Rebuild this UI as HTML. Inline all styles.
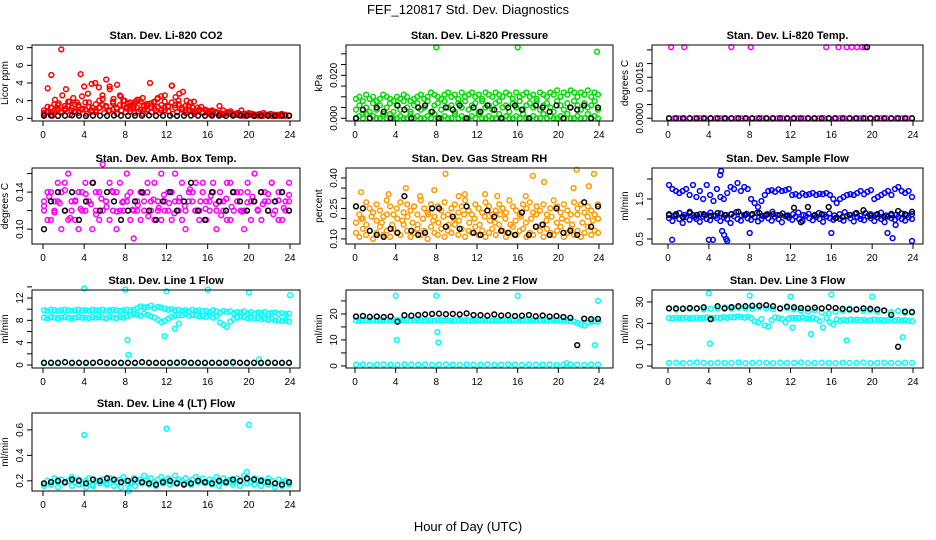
<!DOCTYPE html>
<html><head><meta charset="utf-8"><style>
body{margin:0;background:#fff}
svg{display:block}
text{font-family:"Liberation Sans",sans-serif}
</style></head><body>
<svg id="chart" width="936" height="540" viewBox="0 0 936 540">
<text x="468" y="14" text-anchor="middle" font-size="13">FEF_120817  Std. Dev. Diagnostics</text>
<text x="468" y="531" text-anchor="middle" font-size="13">Hour of Day (UTC)</text>
</svg>
<script>
// ---- data ----
const xTicks=[0,4,8,12,16,20,24];
const co2A=[0.4,0.8,1.2,0.9,1.5,7.8,1.1,1.4,0.9,1.6,1.3,2.5,1.0,1.8,1.2,0.9,2.0,1.5,1.3,3.6,1.9,1.2,2.6,1.5,1.1,1.8,1.3,2.1,1.0,1.4,1.6,1.2,1.9,1.3,0.9,2.6,1.4,3.7,1.5,2.0,1.2,0.9,1.4,0.8,0.7,1.0,0.6,0.9,0.5,0.7,0.6,0.5,0.4,0.6,0.5,0.4,0.4,0.5,0.3,0.4,0.4,0.3,0.3,0.3,0.4,0.3,0.3,0.3,0.3,0.3,0.3,0.3];
const co2B=[0.6,3.4,4.9,2.1,1.7,2.6,3.3,1.9,2.3,1.8,5.0,3.6,2.8,3.9,4.0,3.5,2.6,4.4,3.3,2.2,3.8,2.5,2.0,1.7,1.5,1.9,2.1,2.3,1.6,4.0,1.8,2.2,2.5,1.9,1.4,3.7,2.4,2.8,3.0,2.0,1.8,1.9,1.2,1.3,1.0,0.8,0.9,0.7,1.4,0.9,0.6,0.8,0.5,0.6,0.9,0.5,0.6,0.5,0.4,0.5,0.6,0.4,0.5,0.4,0.4,0.5,0.4,0.3];
const co2C=[0.5,0.7,0.3,0.9,0.6,1.0,0.4,0.8,0.6,1.1,0.5,0.9,0.7,1.2,0.6,0.8,1.0,0.5,0.9,0.7,1.1,0.6,0.8,0.5,1.0,0.7,0.9,0.6,1.2,0.8,0.5,0.7,1.0,0.6,0.9,0.5,0.8,0.6,0.7,0.5,0.6,0.4,0.5,0.6,0.4,0.5,0.3,0.4,0.5,0.3,0.4,0.3,0.4,0.3,0.3,0.4,0.3,0.3];
const co2D=[0.9,1.3,0.7,1.6,1.1,0.8,1.4,1.9,1.2,0.7,1.5,1.0,1.8,1.3,0.8,1.6,1.2,2.2,1.4,0.9,1.7,1.1,1.5,2.0,1.3,0.8,1.6,1.2,1.9,1.0,1.4,1.7,1.1,2.3,1.5,0.9,1.3,1.8,1.2,1.6,1.0,1.4,0.9,1.2,0.8,1.0,0.7,0.9,0.6,0.8,0.7,0.6,0.5,0.7,0.6,0.5,0.6,0.4,0.5,0.4,0.5,0.4,0.4,0.3,0.4,0.4,0.3,0.4,0.3,0.4,0.3,0.3];
const co2K=[0.3,0.32,0.28,0.3,0.33,0.3,0.27,0.31,0.3,0.29,0.32,0.3,0.28,0.31,0.3,0.33,0.29,0.3,0.31,0.28,0.3,0.32,0.3,0.29,0.31,0.3,0.28,0.3,0.32,0.3,0.29,0.31,0.3,0.28,0.3,0.31];

const presA=[0.009,0.010,0.008,0.011,0.009,0.010,0.008,0.009,0.011,0.010,0.009,0.008,0.010,0.009,0.011,0.010,0.008,0.009,0.010,0.011,0.009,0.010,0.012,0.011,0.010,0.009,0.011,0.012,0.010,0.011,0.009,0.012,0.010,0.011,0.012,0.010,0.011,0.009,0.012,0.011,0.010,0.012,0.011,0.010,0.012,0.011,0.009,0.012,0.010,0.011,0.012,0.010,0.011,0.009,0.012,0.011,0.010,0.012,0.011,0.013,0.010,0.012,0.011,0.013,0.012,0.010,0.012,0.011,0.013,0.010,0.012,0.011];
const presB=[0.004,0.006,0.002,0.005,0.003,0.007,0.004,0.006,0.002,0.005,0.007,0.003,0.006,0.004,0.008,0.005,0.003,0.006,0.007,0.004,0.005,0.008,0.003,0.006,0.007,0.004,0.008,0.005,0.006,0.003,0.007,0.005,0.008,0.004,0.006,0.007,0.003,0.008,0.005,0.006,0.004,0.007,0.008,0.005,0.006,0.003,0.007,0.005,0.008,0.004,0.006,0.007,0.005,0.008,0.004,0.006,0.007,0.005,0.003,0.008,0.006,0.004,0.007,0.005,0.008,0.006,0.004,0.007,0.005,0.006,0.008,0.004];
const presC=[0,0.001,0,0.002,0,0.001,0,0,0.001,0,0.002,0,0,0.001,0,0,0.002,0,0.001,0,0,0.001,0,0.002,0,0,0.001,0,0,0.002,0,0.001,0,0,0.001,0,0.002,0,0,0.001,0,0,0.002,0,0.001,0,0,0.001,0,0.002,0,0,0.001,0,0,0.002,0,0.001,0,0,0.001,0,0.002,0,0,0.001,0,0,0.002,0,0.001,0];
const presOutX=[8,16,23.8];
const presOutY=[0.033,0.033,0.031];
const presK=[0,0.004,0,0.005,0.003,0,0.006,0.004,0,0.005,0.006,0.003,0,0.005,0.004,0.006,0,0.005,0.003,0.006,0.004,0,0.005,0.006,0.004,0,0.006,0.005,0.003,0.006,0,0.005,0.004,0.006,0,0.005];

const tempM=[0,0,0,0,0,0,0,0,0,0,0,0,0,0,0,0,0,0,0,0,0,0,0,0,0,0,0,0,0,0,0,0,0,0,0,0,0,0,0,0,0,0,0,0,0,0,0,0];
const tempOutX=[0.3,1.6,6.2,8.1,15.5,16.7,17.5,18,18.5,19,19.3];
const tempOutY=[0.0026,0.0026,0.0026,0.0026,0.0026,0.0026,0.0026,0.0026,0.0026,0.0026,0.0026];
const tempK=[0,0,0,0,0,0,0,0,0,0,0,0,0,0,0,0,0,0,0,0,0,0,0,0,0,0,0,0,0,0,0,0,0,0,0,0];
const tempKOutX=[19.5];
const tempKOutY=[0.0026];

const ambA=[0.12,0.14,0.11,0.13,0.15,0.10,0.12,0.16,0.13,0.11,0.14,0.12,0.15,0.13,0.10,0.12,0.14,0.17,0.13,0.11,0.12,0.14,0.15,0.12,0.13,0.11,0.09,0.12,0.14,0.13,0.15,0.12,0.11,0.13,0.16,0.12,0.14,0.11,0.13,0.12,0.15,0.10,0.13,0.14,0.12,0.11,0.15,0.13,0.12,0.14,0.10,0.13,0.12,0.15,0.11,0.14,0.13,0.12,0.10,0.14,0.13,0.16,0.12,0.11,0.14,0.13,0.15,0.12,0.14,0.11,0.13,0.15];
const ambB=[0.13,0.11,0.14,0.12,0.13,0.14,0.15,0.11,0.12,0.13,0.10,0.14,0.12,0.13,0.15,0.14,0.11,0.12,0.13,0.15,0.14,0.10,0.12,0.13,0.16,0.14,0.12,0.13,0.11,0.12,0.14,0.13,0.15,0.12,0.11,0.13,0.12,0.14,0.16,0.13,0.11,0.12,0.14,0.13,0.15,0.12,0.14,0.11,0.13,0.15,0.12,0.14,0.13,0.11,0.15,0.12,0.13,0.14,0.12,0.15,0.11,0.13,0.12,0.14,0.13,0.12,0.15,0.13,0.11,0.14,0.12,0.13];
const ambC=[0.125,0.135,0.118,0.128,0.142,0.112,0.131,0.122,0.138,0.127,0.116,0.133,0.124,0.141,0.119,0.129,0.136,0.121,0.126,0.139,0.114,0.132,0.123,0.137,0.128,0.117,0.134,0.125,0.143,0.12,0.13,0.122,0.136,0.127,0.115,0.133,0.124,0.14,0.119,0.129,0.135,0.121,0.127,0.138,0.116,0.131,0.123,0.137];
const ambK=[0.10,0.13,0.14,0.12,0.14,0.11,0.13,0.15,0.12,0.14,0.13,0.11,0.12,0.13,0.14,0.12,0.11,0.13,0.14,0.12,0.13,0.15,0.12,0.11,0.14,0.13,0.12,0.14,0.13,0.12,0.13,0.14,0.12,0.13,0.14,0.12];

const rhA=[0.26,0.22,0.20,0.28,0.25,0.23,0.27,0.24,0.21,0.29,0.26,0.22,0.25,0.28,0.23,0.27,0.24,0.26,0.22,0.29,0.25,0.23,0.27,0.21,0.26,0.24,0.28,0.22,0.25,0.27,0.23,0.26,0.29,0.24,0.22,0.27,0.25,0.23,0.28,0.26,0.22,0.24,0.27,0.25,0.23,0.29,0.26,0.24,0.22,0.27,0.25,0.28,0.23,0.26,0.24,0.27,0.22,0.25,0.29,0.26,0.23,0.27,0.24,0.22,0.28,0.25,0.27,0.23,0.26,0.24,0.22,0.27];
const rhB=[0.13,0.11,0.15,0.12,0.14,0.10,0.13,0.16,0.12,0.14,0.11,0.15,0.13,0.12,0.17,0.14,0.11,0.13,0.15,0.12,0.14,0.10,0.16,0.13,0.12,0.15,0.11,0.14,0.13,0.17,0.12,0.15,0.11,0.14,0.13,0.16,0.12,0.14,0.11,0.13,0.15,0.12,0.17,0.14,0.11,0.13,0.16,0.12,0.14,0.15,0.11,0.13,0.12,0.16,0.14,0.11,0.15,0.13,0.12,0.14,0.16,0.11,0.13,0.15,0.12,0.14,0.11,0.13,0.16,0.12,0.14,0.13];
const rhC=[0.18,0.20,0.17,0.21,0.19,0.18,0.22,0.17,0.20,0.19,0.21,0.18,0.17,0.20,0.22,0.19,0.18,0.21,0.17,0.20,0.19,0.22,0.18,0.20,0.17,0.21,0.19,0.18,0.22,0.20,0.17,0.19,0.21,0.18,0.20,0.22,0.17,0.19,0.21,0.18,0.20,0.19,0.17,0.22,0.18,0.21,0.19,0.20];
const rhOutX=[0.6,3.3,5.0,6.4,7.8,8.9,10.2,10.8,12.8,14,16.8,17.5,18.6,21.5,21.8,23,23.5];
const rhOutY=[0.33,0.32,0.35,0.31,0.34,0.42,0.31,0.32,0.32,0.31,0.31,0.41,0.38,0.35,0.44,0.36,0.42];
const rhK=[0.26,0.25,0.14,0.12,0.11,0.15,0.13,0.31,0.14,0.12,0.13,0.25,0.25,0.16,0.21,0.15,0.26,0.13,0.12,0.24,0.21,0.14,0.13,0.12,0.23,0.12,0.16,0.17,0.12,0.25,0.13,0.14,0.12,0.28,0.16,0.26];

const sfA=[1.02,0.95,1.08,1.0,0.9,1.05,0.98,1.1,1.0,0.93,1.06,1.0,0.97,1.08,1.02,0.95,1.04,1.0,0.9,1.07,1.0,0.96,1.1,1.02,0.98,1.05,0.94,1.0,1.08,1.02,0.96,1.05,1.0,0.92,1.07,1.03,0.98,1.06,1.0,0.95,1.08,1.02,0.97,1.05,1.0,0.93,1.06,1.02,0.98,1.04,1.0,0.96,1.08,1.02,0.94,1.05,1.0,0.97,1.07,1.02,0.95,1.04,1.0,0.92,1.06,1.02,0.98,1.05,1.0,0.96,1.04,1.0];
const sfB=[1.12,1.08,1.15,1.1,1.18,1.05,1.12,1.1,1.16,1.08,1.14,1.1,1.12,1.17,1.09,1.13,1.1,1.15,1.08,1.12,1.18,1.1,1.14,1.09,1.12,1.16,1.1,1.13,1.08,1.15,1.11,1.14,1.09,1.12,1.17,1.1,1.13,1.08,1.15,1.12,1.1,1.16,1.09,1.13,1.11,1.14,1.1,1.12];
const sfC=[1.85,1.75,1.7,1.65,1.7,1.75,1.6,1.85,1.55,1.7,1.5,1.85,1.6,1.45,1.75,1.55,1.5,1.65,1.8,1.75,1.9,1.7,1.8,1.75,1.5,1.4,1.3,1.45,1.6,1.7,1.72,1.68,1.74,1.7,1.72,1.75,1.6,1.62,1.58,1.64,1.6,1.62,1.65,1.6,1.63,1.62,1.65,1.6,1.5,1.4,1.5,1.55,1.6,1.62,1.6,1.65,1.7,1.62,1.68,1.72,1.5,1.55,1.6,1.65,1.7,1.6,1.75,1.8,1.7,1.65,1.7,1.55];
const sfOutX=[0.4,4.0,4.4,5.1,5.2,5.3,5.5,5.7,5.8,8.0,16.0,21.5,22.0,22.3,23.9];
const sfOutY=[0.48,0.48,0.48,2.1,2.2,0.7,0.6,0.5,0.45,0.65,0.65,0.65,0.52,0.85,0.45];
const sfK=[1.1,1.12,1.05,1.15,1.1,1.12,1.08,1.15,1.1,1.12,1.18,1.1,1.12,1.15,1.1,1.12,1.1,1.08,1.28,0.92,1.3,1.1,1.12,1.3,1.02,1.05,1.1,1.15,1.22,1.08,1.12,1.05,1.1,1.2,1.12,1.18];

const l1A=[9.8,9.7,9.9,9.8,9.7,9.8,9.9,9.8,9.7,9.8,9.9,9.8,9.8,9.7,9.9,9.8,9.8,9.9,9.7,9.8,9.9,9.8,9.7,9.8,9.9,9.8,9.9,10.2,10.5,10.3,10.4,10.6,10.2,10.4,10.3,10.1,9.9,10.0,9.8,9.9,9.7,9.8,9.6,9.9,9.7,9.8,9.6,9.7,9.5,9.8,9.6,9.4,9.7,9.5,9.6,9.3,9.5,9.4,9.6,9.3,9.5,9.2,9.4,9.3,9.5,9.2,9.3,9.4,9.2,9.3,9.1,9.2];
const l1B=[8.5,8.4,8.6,8.5,8.4,8.5,8.6,8.5,8.4,8.5,8.6,8.5,8.5,8.4,8.6,8.5,8.6,8.5,8.4,8.6,8.5,8.4,8.6,8.5,8.7,8.9,9.1,9.0,8.8,9.2,9.0,8.7,8.5,8.1,7.7,7.9,8.3,8.6,8.8,9.0,8.9,9.1,8.8,9.0,8.9,8.7,8.8,8.6,8.9,8.5,8.7,7.6,7.2,6.8,7.8,8.2,8.5,8.7,8.6,8.4,8.5,8.3,8.4,8.2,8.3,8.1,8.2,8.0,8.1,7.9,8.0,7.8];
const l1C=[0.3,0.4,0.3,0.5,0.3,0.4,0.3,0.4,0.5,0.3,0.4,0.3,0.4,0.3,0.5,0.4,0.3,0.4,0.3,0.5,0.4,0.3,0.4,0.3,0.4,0.3,0.5,0.3,0.4,0.3,0.4,0.3,0.5,0.4,0.3,0.4];
const l1OutX=[4,8,8.2,8.3,11.8,12,12.8,13.2,16,20,21,24];
const l1OutY=[13.7,13.5,4.5,1.8,5.2,13.2,6.5,7.4,13.5,13,1.0,12.5];
const l1K=[0.4,0.4,0.4,0.5,0.4,0.4,0.4,0.4,0.5,0.4,0.4,0.4,0.4,0.4,0.5,0.4,0.4,0.4,0.4,0.4,0.5,0.4,0.4,0.4,0.4,0.4,0.4,0.5,0.4,0.4,0.4,0.4,0.4,0.4,0.4,0.4];

const l2A=[17.5,17.3,17.6,17.5,17.4,17.6,17.5,17.3,17.5,17.6,17.4,17.5,17.6,17.4,17.5,17.7,17.5,17.4,17.6,17.5,17.3,17.5,17.6,17.4,17.5,17.6,17.4,17.5,17.3,17.6,17.5,17.4,17.6,17.5,17.3,17.5,17.6,17.4,17.5,17.6,17.4,17.5,17.3,17.6,17.5,17.4,17.6,17.5,17.3,17.5,17.6,17.4,17.5,17.6,17.4,17.5,17.3,17.6,17.5,17.4,17.6,17.5,17.3,17.2,17.0,16.5,16.0,15.5,16.5,17.0,17.2,17.0];
const l2C=[0.5,0.6,0.4,0.5,0.6,0.5,0.4,0.6,0.5,0.5,0.6,0.4,0.5,0.6,0.5,0.4,0.6,0.5,0.5,0.6,0.4,0.5,0.6,0.5,0.4,0.6,0.5,0.5,0.6,0.4,0.5,0.6,0.5,0.4,0.6,0.5];
const l2OutX=[4,4.1,8,8.1,8.2,16,20.8,23.6,23.9];
const l2OutY=[27,10,27,13,9,27,1,8,25];
const l2K=[19,19.2,18.9,19,18.8,19,17,19.5,19.3,19.6,19.8,20,20.1,19.9,20,19.8,20.2,19.6,19.5,19.3,19.8,19.4,19.5,19.2,19.3,19.6,19.1,19.4,19.0,19.2,18.8,18.5,8,18.2,18.0,18.1];

const l3A=[22.5,22.3,22.6,22.4,22.5,22.7,22.3,22.5,22.6,22.4,22.5,22.8,22.6,22.4,22.7,22.5,22.9,22.6,23.0,22.8,23.2,23.0,22.7,23.1,22.5,21.0,20.5,22.0,19.0,18.5,21.5,22.8,22.5,22.0,20.5,22.3,22.6,22.4,22.5,22.8,22.3,22.1,22.6,22.0,21.0,18.0,22.5,20.5,19.5,21.8,21.2,21.6,21.3,21.8,21.5,21.7,21.4,21.6,21.3,21.5,21.8,21.4,21.6,21.3,21.5,21.7,21.4,21.6,21.3,21.5,21.2,21.0];
const l3B=[27,26.5,27.2,26.8,27,26.5,26.8,27,27.5,26.9,27.3,27,26.8,27.4,27,26.6,26.9,27.2,26.5,26,25.5,26.2,25,24.5,25.5,26,27,26.5,25.8,26.2,25.5,26,25.2,25.8,25,25.5];
const l3C=[1.5,1.6,1.4,1.5,1.7,1.5,1.4,1.6,1.5,1.5,1.7,1.4,1.5,1.6,1.5,1.4,1.6,1.5,1.5,1.7,1.4,1.5,1.6,1.5,1.4,1.6,1.5,1.5,1.7,1.4,1.5,1.6,1.5,1.4,1.6,1.5];
const l3OutX=[4,4.1,8,12,16,20,14,17.5,23,12.2];
const l3OutY=[34,10.5,33,32.5,33.5,32.5,15,12,13.5,18];
const l3K=[27,27,26.8,27.2,27,27.5,22,28,27,27.6,28,28,28.2,28.3,28.5,28,27,27.8,27.5,27.2,27,27.3,27,27.5,27.2,26.8,26.5,26.5,27,26.8,26.5,26,24,9,25.5,25.2];

const l4A=[0.18,0.2,0.17,0.22,0.19,0.21,0.18,0.2,0.23,0.19,0.21,0.18,0.2,0.22,0.17,0.2,0.19,0.21,0.18,0.22,0.2,0.19,0.21,0.23,0.2,0.18,0.22,0.19,0.21,0.24,0.2,0.22,0.19,0.21,0.23,0.2,0.22,0.19,0.24,0.21,0.2,0.22,0.19,0.21,0.23,0.2,0.22,0.19,0.21,0.2,0.23,0.19,0.22,0.2,0.21,0.19,0.22,0.2,0.24,0.21,0.19,0.22,0.2,0.21,0.19,0.22,0.2,0.18,0.21,0.19,0.2,0.18];
const l4B=[0.16,0.17,0.15,0.18,0.16,0.17,0.15,0.16,0.18,0.17,0.16,0.15,0.17,0.16,0.18,0.17,0.16,0.18,0.17,0.19,0.18,0.17,0.19,0.18,0.17,0.16,0.18,0.17,0.16,0.18,0.17,0.16,0.17,0.15,0.16,0.17];
const l4OutX=[4,12,20,8.3,19.8];
const l4OutY=[0.56,0.61,0.64,0.12,0.27];
const l4K=[0.18,0.19,0.2,0.19,0.21,0.2,0.18,0.21,0.2,0.22,0.21,0.19,0.2,0.21,0.19,0.18,0.17,0.19,0.2,0.18,0.17,0.18,0.2,0.19,0.18,0.2,0.19,0.21,0.2,0.22,0.21,0.2,0.19,0.18,0.17,0.19];

// ---- layout (not data) ----
const cols=[{l:32,r:300,x0:43,x24:290},{l:346,r:613,x0:355,x24:599},{l:652,r:923,x0:668,x24:913}];
const rows=[{t:45,b:121},{t:168,b:244},{t:290,b:368},{t:413,b:491}];
const RED='#ff0000',GRN='#00dd00',MAG='#ff00ff',ORG='#ff9900',BLU='#0000ff',CYN='#00ffff',BLK='#000000';

const panels=[
 {c:0,r:0,title:'Stan. Dev. Li-820 CO2',yl:'Licor ppm',dom:[-0.3,8.3],ticks:[0,2,4,6,8],labs:['0','2','4','6','8'],
  s:[{y:co2C,col:RED},{y:co2D,col:RED},{y:co2B,col:RED},{y:co2A,col:RED},{y:co2K,col:BLK}]},
 {c:1,r:0,title:'Stan. Dev. Li-820 Pressure',yl:'kPa',dom:[-0.00126,0.0341],ticks:[0,0.005,0.01,0.015,0.02,0.025,0.03],labs:['0.000','','','','0.020','',''],
  s:[{y:presC,col:GRN},{y:presB,col:GRN},{y:presA,col:GRN},{y:presOutY,x:presOutX,col:GRN},{y:presK,col:BLK}]},
 {c:2,r:0,title:'Stan. Dev. Li-820 Temp.',yl:'degrees C',dom:[-0.0001,0.00268],ticks:[0,0.0005,0.001,0.0015,0.002,0.0025],labs:['0.0000','','','0.0015','',''],
  s:[{y:tempM,col:MAG},{y:tempOutY,x:tempOutX,col:MAG},{y:tempK,col:BLK},{y:tempKOutY,x:tempKOutX,col:BLK}]},
 {c:0,r:1,title:'Stan. Dev. Amb. Box Temp.',yl:'degrees C',dom:[0.084,0.166],ticks:[0.1,0.12,0.14,0.16],labs:['0.10','','0.14',''],
  s:[{y:ambA,col:MAG},{y:ambB,col:MAG},{y:ambC,col:MAG},{y:ambK,col:BLK}]},
 {c:1,r:1,title:'Stan. Dev. Gas Stream RH',yl:'percent',dom:[0.075,0.449],ticks:[0.1,0.15,0.2,0.25,0.3,0.35,0.4],labs:['0.10','','','0.25','','','0.40'],
  s:[{y:rhB,col:ORG},{y:rhC,col:ORG},{y:rhA,col:ORG},{y:rhOutY,x:rhOutX,col:ORG},{y:rhK,col:BLK}]},
 {c:2,r:1,title:'Stan. Dev. Sample Flow',yl:'ml/min',dom:[0.375,2.275],ticks:[0.5,1,1.5,2],labs:['0.5','','1.5',''],
  s:[{y:sfA,col:BLU},{y:sfB,col:BLU},{y:sfC,col:BLU},{y:sfOutY,x:sfOutX,col:BLU},{y:sfK,col:BLK}]},
 {c:0,r:2,title:'Stan. Dev. Line 1 Flow',yl:'ml/min',dom:[-0.54,13.44],ticks:[0,2,4,6,8,10,12,14],labs:['0','','4','','8','','12',''],
  s:[{y:l1A,col:CYN},{y:l1B,col:CYN},{y:l1C,col:CYN},{y:l1OutY,x:l1OutX,col:CYN},{y:l1K,col:BLK}]},
 {c:1,r:2,title:'Stan. Dev. Line 2 Flow',yl:'ml/min',dom:[-0.8,29.2],ticks:[0,5,10,15,20,25],labs:['0','','10','','20',''],
  s:[{y:l2A,col:CYN},{y:l2C,col:CYN},{y:l2OutY,x:l2OutX,col:CYN},{y:l2K,col:BLK}]},
 {c:2,r:2,title:'Stan. Dev. Line 3 Flow',yl:'ml/min',dom:[-0.9,35.6],ticks:[0,10,20,30],labs:['0','10','20','30'],
  s:[{y:l3A,col:CYN},{y:l3B,col:CYN},{y:l3C,col:CYN},{y:l3OutY,x:l3OutX,col:CYN},{y:l3K,col:BLK}]},
 {c:0,r:3,title:'Stan. Dev. Line 4 (LT) Flow',yl:'ml/min',dom:[0.12,0.733],ticks:[0.2,0.4,0.6],labs:['0.2','0.4','0.6'],
  s:[{y:l4A,col:CYN},{y:l4B,col:CYN},{y:l4OutY,x:l4OutX,col:CYN},{y:l4K,col:BLK}]}
];

const NS='http://www.w3.org/2000/svg';
const svg=document.getElementById('chart');
function mk(tag,attrs,parent){const e=document.createElementNS(NS,tag);for(const k in attrs)e.setAttribute(k,attrs[k]);(parent||svg).appendChild(e);return e;}

panels.forEach((p,pi)=>{
  const C=cols[p.c],R=rows[p.r];
  const g=mk('g',{});
  
  
  const xs=v=>C.x0+(v/24)*(C.x24-C.x0);
  const ys=v=>R.b-(v-p.dom[0])/(p.dom[1]-p.dom[0])*(R.b-R.t);
  const t=mk('text',{x:(C.l+C.r)/2,y:R.t-6,'text-anchor':'middle','font-size':'11','font-weight':'bold'},g);
  t.textContent=p.title;
  
  
  p.s.forEach(s=>{
    const n=s.y.length;
    s.y.forEach((v,i)=>{
      const hx=s.x?s.x[i]:(n>1?0.1+i*23.8/(n-1):12);
      const c=mk('circle',{cx:xs(hx).toFixed(1),cy:ys(v).toFixed(1),r:2.4,fill:'none',stroke:s.col,'stroke-width':1.5},g);
      
      
    });
  });
  const box=mk('rect',{x:C.l,y:R.t,width:C.r-C.l,height:R.b-R.t,fill:'none',stroke:'#000','stroke-width':1},g);
  
  
  xTicks.forEach(v=>{
    const x=xs(v);
    mk('line',{x1:x,x2:x,y1:R.b,y2:R.b+5,stroke:'#000'},g);
    const tl=mk('text',{x:x,y:R.b+17,'text-anchor':'middle','font-size':'10'},g);
    tl.textContent=v;
    
    
  });
  p.ticks.forEach((v,i)=>{
    const y=ys(v);
    mk('line',{x1:C.l-5,x2:C.l,y1:y,y2:y,stroke:'#000'},g);
    if(p.labs[i]){
      const tl=mk('text',{x:C.l-9,y:y,'text-anchor':'middle','font-size':'10',transform:`rotate(-90 ${C.l-9} ${y})`},g);
      tl.textContent=p.labs[i];
      
      
    }
  });
  const yl=mk('text',{x:C.l-24,y:(R.t+R.b)/2,'text-anchor':'middle','font-size':'10',transform:`rotate(-90 ${C.l-24} ${(R.t+R.b)/2})`},g);
  yl.textContent=p.yl;
  
  
});
</script>
</body></html>
